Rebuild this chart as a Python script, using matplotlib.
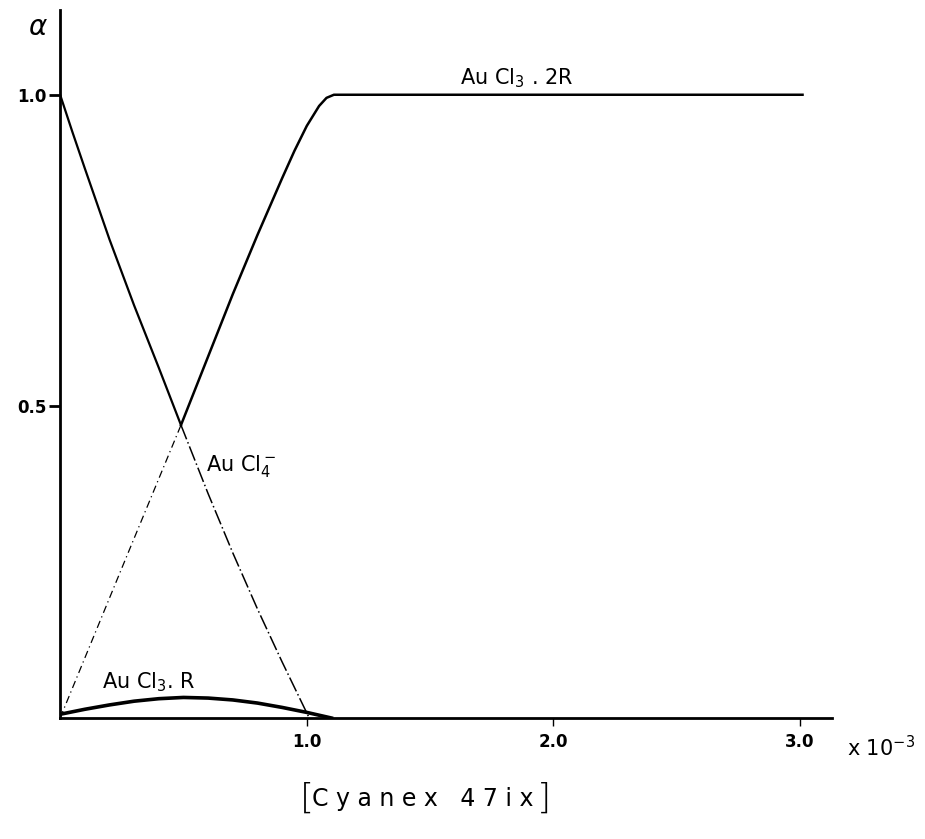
import numpy as np
import matplotlib.pyplot as plt

# concentration of Cyanex 471x (x 10^-3) and fractions alpha
x_aucl4 = [0.0, 0.05, 0.1, 0.2, 0.3, 0.4, 0.49, 0.6, 0.7, 0.8, 0.9, 1.01]
a_aucl4 = [1.0, 0.94, 0.882, 0.768, 0.662, 0.562, 0.47, 0.36, 0.265, 0.175, 0.09, 0.0]

x_2r = [0.0, 0.26, 0.49, 0.6, 0.7, 0.8, 0.9, 0.95, 1.0, 1.05, 1.08, 1.11, 1.2, 2.0, 3.01]
a_2r = [0.0, 0.25, 0.47, 0.58, 0.68, 0.775, 0.866, 0.91, 0.95, 0.982, 0.995, 1.0, 1.0, 1.0, 1.0]

x_1r = [0.0, 0.1, 0.2, 0.3, 0.4, 0.5, 0.6, 0.7, 0.8, 0.9, 1.0, 1.1]
a_1r = [0.006, 0.014, 0.021, 0.027, 0.031, 0.033, 0.032, 0.029, 0.024, 0.017, 0.009, 0.0]

x_cross = 0.49

xticks = [1.0, 2.0, 3.0]
xtick_labels = ['1.0', '2.0', '3.0']
yticks = [0.5, 1.0]
ytick_labels = ['0.5', '1.0']

plt.rcParams['font.family'] = ['DejaVu Sans']

fig = plt.figure(figsize=(9.25, 8.39), dpi=100)
ax = fig.add_axes([0.065, 0.1442, 0.8346, 0.8439])

x4 = np.array(x_aucl4); y4 = np.array(a_aucl4)
x2 = np.array(x_2r); y2 = np.array(a_2r)

# upper parts solid, lower parts (below the crossing) thin dash-dot
ax.plot(x4[x4 <= x_cross], y4[x4 <= x_cross], color='black', lw=1.6)
ax.plot(x4[x4 >= x_cross], y4[x4 >= x_cross], color='black', lw=1.1, ls=(0, (10, 2, 1, 2)))
ax.plot(x2[x2 >= x_cross], y2[x2 >= x_cross], color='black', lw=1.8)
ax.plot(x2[x2 <= x_cross], y2[x2 <= x_cross], color='black', lw=0.9, ls=(0, (6, 3, 1, 3)))
ax.plot(x_1r, a_1r, color='black', lw=2.6)

ax.set_xlim(0, 3.13)
ax.set_ylim(0, 1.136)
for side in ['top', 'right']:
    ax.spines[side].set_visible(False)
for side in ['left', 'bottom']:
    ax.spines[side].set_linewidth(2)

ax.set_xticks(xticks)
ax.set_xticklabels(xtick_labels, fontsize=12, fontweight='bold')
ax.set_yticks(yticks)
ax.set_yticklabels(ytick_labels, fontsize=12, fontweight='bold')
ax.tick_params(axis='x', direction='out', length=6, width=1, pad=5)
ax.tick_params(axis='y', direction='out', length=8, width=2, pad=2)

ax.text(1.62, 1.027, 'Au Cl$_3$ . 2R', fontsize=15, va='center')
ax.text(0.59, 0.405, 'Au Cl$_4^-$', fontsize=15, va='center')
ax.text(0.17, 0.058, 'Au Cl$_3$. R', fontsize=15, va='center')

ax.text(-0.13, 1.108, r'$\alpha$', fontsize=20, fontweight='bold', va='center', clip_on=False)
ax.text(3.19, -0.047, r'x 10$^{-3}$', fontsize=15, va='center', clip_on=False)
ax.text(1.47, -0.13, 'C y a n e x   4 7 i x', fontsize=17, ha='center', va='center',
        clip_on=False)
ax.text(1.0, -0.13, '[', fontsize=26, ha='center', va='center', fontweight='light', clip_on=False)
ax.text(1.96, -0.13, ']', fontsize=26, ha='center', va='center', fontweight='light', clip_on=False)

plt.savefig('out.png', dpi=100)
